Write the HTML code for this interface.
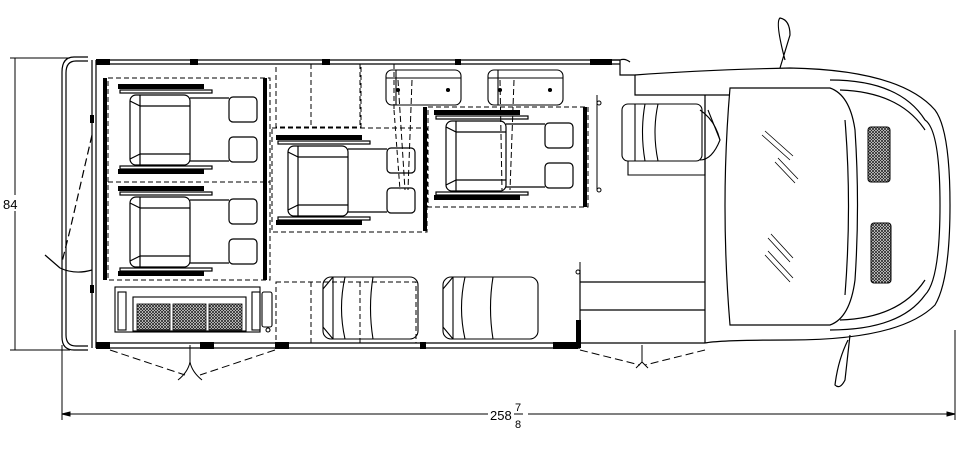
<!DOCTYPE html>
<html><head><meta charset="utf-8"><style>
html,body{margin:0;padding:0;background:#fff;}
svg{display:block;}
text{font-family:"Liberation Sans",sans-serif;fill:#000;}
</style></head><body>
<svg width="975" height="452" viewBox="0 0 975 452" xmlns="http://www.w3.org/2000/svg">
<defs>
<g id="wc" fill="none" stroke="#000" stroke-width="1.2">
  <rect x="0" y="0" width="86" height="5" fill="#000" stroke="none"/>
  <rect x="2" y="6" width="92" height="3"/>
  <rect x="12" y="11" width="60" height="70" rx="6"/>
  <path d="M22 11 V81 M12 17 L22 22 V70 L12 75"/>
  <path d="M22 22 H72 M22 70 H72"/>
  <path d="M72 14 H111 M72 77 H111"/>
  <rect x="111" y="13" width="28" height="25" rx="4"/>
  <rect x="111" y="53" width="28" height="25" rx="4"/>
  <rect x="2" y="82" width="92" height="3"/>
  <rect x="0" y="85" width="86" height="5" fill="#000" stroke="none"/>
</g>
<g id="bench" fill="none" stroke="#000" stroke-width="1.1">
  <rect x="0" y="0" width="75" height="35" rx="6"/>
  <path d="M0 8 H75 M10 0 V35 M8 35 L70 35"/>
  <circle cx="12" cy="20" r="1.5" fill="#000"/><circle cx="62" cy="20" r="1.5" fill="#000"/>
</g>
<g id="seat" fill="none" stroke="#000" stroke-width="1.1">
  <rect x="0" y="0" width="95" height="62" rx="8"/>
  <path d="M0 12 L10 0 M0 50 L10 62 M10 0 V62 M0 12 V50"/>
  <path d="M22 0 Q15 31 22 62 M50 0 Q45 31 50 62"/>
</g>
<pattern id="mesh" width="3" height="3" patternUnits="userSpaceOnUse">
  <rect width="3" height="3" fill="#fff"/><path d="M0 0 L3 3 M3 0 L0 3" stroke="#222" stroke-width="0.8"/>
</pattern>
</defs>

<g stroke="#000" stroke-width="1" fill="none">
  <path d="M15 58 V350 M10 58 H70 M10 350 H70"/>
  <path d="M62 345 V420 M955 330 V420"/>
  <path d="M62 414 H488 M528 414 H955"/>
  <path d="M62 414 l8 -2 v4 z M955 414 l-8 -2 v4 z" fill="#000"/>
</g>
<rect x="5" y="195" width="20" height="16" fill="#fff"/>
<text x="3" y="209" font-size="13">84</text>
<text x="490" y="420" font-size="13">258</text>
<text x="515" y="411" font-size="11">7</text>
<text x="515" y="428" font-size="11">8</text>
<line x1="514" y1="414" x2="523" y2="414" stroke="#000"/>

<g fill="none" stroke="#000" stroke-width="1.2">
  <path d="M88 57 H74 Q62 57 62 72 V337 Q62 350 74 350 H88"/>
  <path d="M88 61 H76 Q66 61 66 73 V335 Q66 346 76 346 H88"/>
  <path d="M92 60 V348"/>
  <path d="M92 135 L70 230 L62 262" stroke-dasharray="8,4"/>
  <path d="M60 268 L45 255 M60 268 Q75 275 92 270"/>
</g>

<g fill="none" stroke="#000" stroke-width="1.2">
  <path d="M96 60 H620 M96 64 H620"/>
  <path d="M96 343 H705 M96 348 H580"/>
  <path d="M96 60 V348"/>
  <path d="M580 270 V348 M580 282 H705 M580 310 H705"/>
  <path d="M610 60 H620 V75 H635 V95 H730 M620 60 Q625 58 630 62"/>
</g>
<g fill="#000">
  <rect x="96" y="59" width="14" height="6"/><rect x="190" y="59" width="8" height="6"/>
  <rect x="322" y="59" width="8" height="6"/><rect x="455" y="59" width="6" height="6"/>
  <rect x="590" y="59" width="22" height="6"/>
  <rect x="96" y="342" width="14" height="7"/><rect x="200" y="342" width="14" height="7"/>
  <rect x="275" y="342" width="14" height="7"/><rect x="420" y="342" width="6" height="7"/>
  <rect x="553" y="342" width="25" height="7"/>
  <rect x="576" y="320" width="5" height="28"/>
  <rect x="103" y="78" width="4" height="202"/><rect x="263" y="78" width="4" height="202"/>
  <rect x="423" y="107" width="4" height="124"/><rect x="583" y="107" width="4" height="100"/>
  <rect x="90" y="115" width="4" height="8"/><rect x="90" y="285" width="4" height="8"/>
</g>

<g fill="none" stroke="#000" stroke-width="1" stroke-dasharray="8,4">
  <path d="M110 350 L185 375 M275 350 L200 375 M580 350 L640 365 M705 350 L645 365"/>
</g>
<g fill="none" stroke="#000" stroke-width="1">
  <path d="M190 345 V362 Q188 372 178 380 M190 362 Q192 372 202 380"/>
  <path d="M642 345 V362 L636 368 M642 362 L648 368"/>
</g>

<g fill="none" stroke="#000" stroke-width="1" stroke-dasharray="5,3">
  <rect x="108" y="78" width="162" height="202"/>
  <path d="M108 182 H270"/>
  <rect x="272" y="128" width="155" height="104"/>
  <rect x="428" y="107" width="160" height="100"/>
  <rect x="276" y="64" width="85" height="63"/>
  <path d="M311 64 V127 M360 64 V127 M394 64 V110 M394 110 L400 190"/>
  <rect x="276" y="282" width="140" height="61"/>
  <path d="M311 282 V343 M360 282 V343"/>
</g>

<use href="#wc" x="118" y="84"/>
<use href="#wc" x="118" y="186"/>
<use href="#wc" x="276" y="135"/>
<use href="#wc" x="434" y="110"/>

<use href="#bench" x="386" y="70"/>
<use href="#bench" x="488" y="70"/>
<g fill="none" stroke="#000" stroke-width="1">
  <path d="M398 80 L405 190 M412 80 L408 190 M500 80 L502 190 M514 80 L510 190" stroke-dasharray="6,3"/>
  <path d="M597 95 V190"/><circle cx="599" cy="103" r="2"/><circle cx="599" cy="190" r="2"/>
  <path d="M580 262 V275"/><circle cx="578" cy="272" r="2"/>
</g>

<use href="#seat" x="323" y="277"/>
<use href="#seat" x="443" y="277"/>

<g fill="none" stroke="#000" stroke-width="1.1">
  <rect x="115" y="287" width="145" height="45"/>
  <rect x="118" y="292" width="8" height="38"/><rect x="252" y="292" width="8" height="38"/>
  <rect x="133" y="297" width="113" height="34"/>
  <rect x="262" y="292" width="10" height="35" rx="2"/>
  <circle cx="268" cy="330" r="2"/>
</g>
<g fill="url(#mesh)" stroke="#000" stroke-width="0.8">
  <rect x="137" y="304" width="33" height="26"/><rect x="173" y="304" width="33" height="26"/><rect x="209" y="304" width="33" height="26"/>
</g>

<g fill="none" stroke="#000" stroke-width="1.1">
  <rect x="622" y="104" width="80" height="57" rx="6"/>
  <path d="M635 104 V161 M645 104 Q640 132 645 161 M658 104 Q652 132 658 161"/>
  <path d="M628 161 V175 H705 V100"/>
  <path d="M700 110 Q715 120 720 140 Q712 160 700 160"/>
  <path d="M708 110 L720 140"/>
</g>

<g fill="none" stroke="#000" stroke-width="1.2">
  <path d="M705 95 V343"/>
  <path d="M730 88 H830 Q850 95 855 130 Q860 205 855 280 Q850 318 830 325 H730 Q720 205 730 88 Z"/>
  <path d="M635 75 Q700 70 790 68 Q900 70 935 110 Q950 130 950 205 Q950 280 935 305 Q900 340 790 340 Q720 340 705 343"/>
  <path d="M830 80 Q900 80 925 120 Q940 130 940 205 Q940 280 925 295 Q900 330 830 330"/>
  <path d="M840 90 Q900 92 925 130 M840 320 Q900 318 925 280"/>
  <path d="M845 120 Q852 205 845 295"/>
  <path d="M780 68 L790 35 Q790 20 780 18 Q775 22 785 60"/>
  <path d="M850 335 L845 380 Q840 390 835 385 Q838 360 848 340"/>
</g>
<g fill="url(#mesh)" stroke="#000" stroke-width="1">
  <rect x="868" y="127" width="22" height="55" rx="3"/>
  <rect x="871" y="223" width="20" height="60" rx="3"/>
</g>
<g stroke="#000" stroke-width="0.8">
  <path d="M762 135 L790 160 M765 131 L793 156 M775 162 L795 183 M778 158 L798 179"/>
  <path d="M768 238 L790 262 M771 234 L793 258 M765 255 L790 282 M768 251 L793 278"/>
</g>
</svg>
</body></html>
